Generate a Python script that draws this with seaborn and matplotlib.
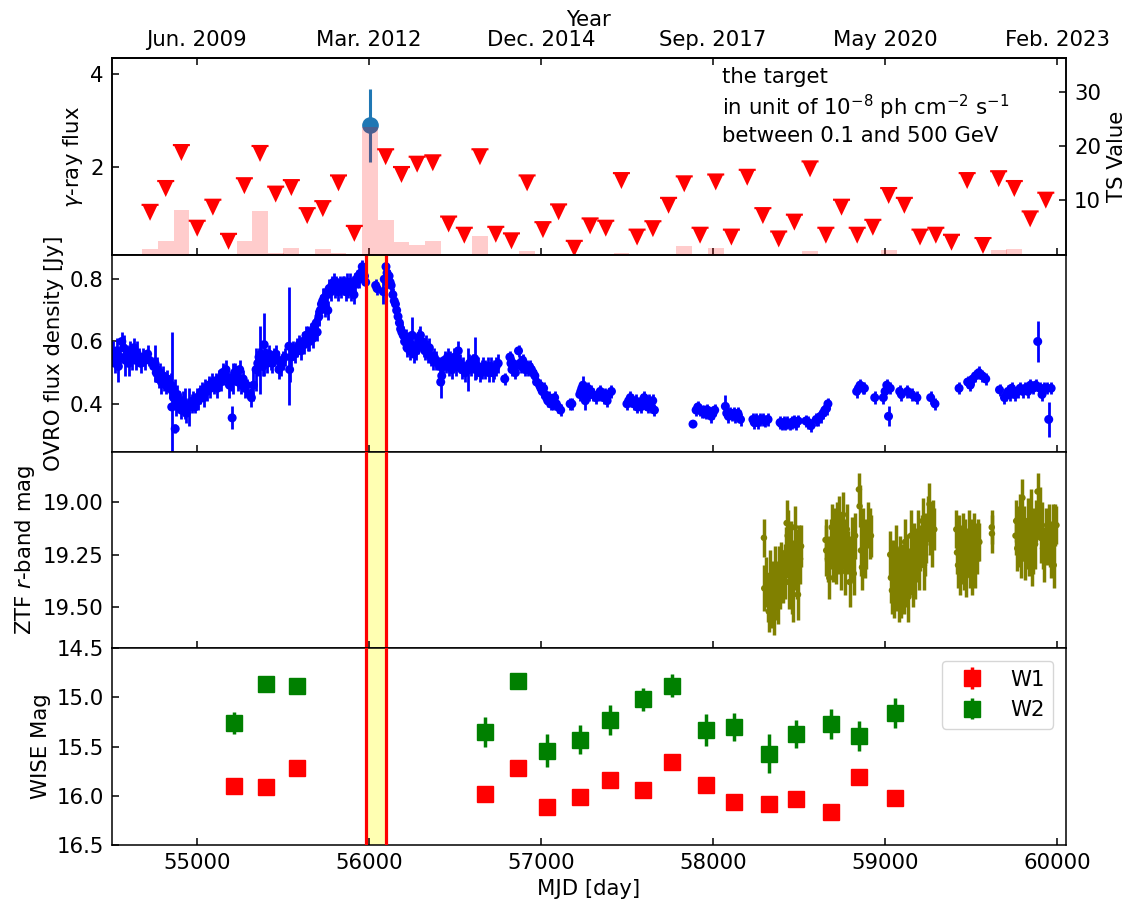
import numpy as np
import pandas as pd
import matplotlib
matplotlib.use("Agg")
import matplotlib.pyplot as plt
from matplotlib.path import Path
import seaborn as sns

# ---------------- data ----------------
# Fermi-LAT quarterly bins
gamma_bin_mjd = [54729, 54820, 54911, 55003, 55094, 55185, 55277, 55368, 55459, 55550,
                 55642, 55733, 55824, 55916, 56007, 56098, 56190, 56281, 56372, 56464,
                 56555, 56646, 56738, 56829, 56920, 57012, 57103, 57194, 57286, 57377,
                 57468, 57559, 57651, 57742, 57833, 57925, 58016, 58107, 58199, 58290,
                 58382, 58473, 58564, 58656, 58747, 58838, 58929, 59021, 59112, 59203,
                 59295, 59386, 59477, 59569, 59660, 59751, 59843, 59934]
gamma_ul_flux = [1.03, 1.54, 2.31, 0.69, 1.14, 0.41, 1.60, 2.29, 1.42, 1.56,
                 0.96, 1.11, 1.66, 0.58, np.nan, 2.22, 1.84, 2.06, 2.09, 0.78,
                 0.54, 2.22, 0.56, 0.42, 1.66, 0.66, 1.04, 0.26, 0.74, 0.69,
                 1.71, 0.50, 0.68, 1.18, 1.64, 0.54, 1.68, 0.50, 1.78, 0.96,
                 0.46, 0.82, 1.96, 0.54, 1.14, 0.54, 0.71, 1.39, 1.18, 0.50,
                 0.54, 0.39, 1.71, 0.32, 1.75, 1.54, 0.89, 1.29]
gamma_ts = [1.0, 2.5, 8.2, 0, 0, 0, 2.5, 8.0, 0.4, 1.2,
            0, 1.0, 0.3, 0, 23.6, 6.4, 2.3, 1.8, 2.5, 0,
            0, 3.4, 0, 0, 0.7, 0, 0, 0, 0, 0,
            0.4, 0, 0, 0, 1.6, 0, 1.2, 0, 0, 0,
            0, 0, 0.7, 0, 0, 0, 0, 0.85, 0, 0,
            0, 0, 0, 0, 0.85, 1.0, 0, 0]
gamma_det_mjd = [56007]
gamma_det_flux = [2.89]
gamma_det_err_lo = [0.78]
gamma_det_err_hi = [0.77]

year_tick_mjd = [55000, 56000, 57000, 58000, 59000, 60000]
year_tick_labels = ["Jun. 2009", "Mar. 2012", "Dec. 2014", "Sep. 2017", "May 2020", "Feb. 2023"]

# OVRO 15 GHz
ovro_mjd = [54505, 54515, 54525, 54535, 54545, 54555, 54565, 54575, 54585, 54595,
            54605, 54615, 54625, 54635, 54645, 54655, 54665, 54675, 54690, 54700,
            54715, 54725, 54750, 54758, 54765, 54772, 54780, 54788, 54795, 54805,
            54812, 54820, 54830, 54842, 54850, 54855, 54860, 54865, 54872, 54875,
            54880, 54888, 54895, 54902, 54910, 54918, 54925, 54932, 54940, 54950,
            54958, 54970, 54980, 54990, 55000, 55010, 55020, 55030, 55040, 55050,
            55060, 55070, 55080, 55090, 55100, 55110, 55120, 55130, 55140, 55150,
            55160, 55170, 55180, 55190, 55200, 55206, 55212, 55220, 55230, 55240,
            55250, 55260, 55270, 55280, 55290, 55310, 55318, 55330, 55345, 55355,
            55362, 55368, 55375, 55385, 55392, 55400, 55410, 55420, 55430, 55440,
            55450, 55460, 55470, 55478, 55490, 55500, 55512, 55536, 55540, 55550,
            55560, 55570, 55585, 55595, 55605, 55615, 55625, 55635, 55645, 55655,
            55665, 55675, 55685, 55695, 55700, 55710, 55718, 55725, 55732, 55740,
            55748, 55755, 55762, 55770, 55778, 55786, 55795, 55805, 55812, 55820,
            55830, 55840, 55850, 55858, 55866, 55874, 55882, 55890, 55898, 55906,
            55914, 55922, 55930, 55938, 55946, 55954, 55962, 55968, 55975, 55982,
            56040, 56048, 56084, 56090, 56100, 56106, 56112, 56118, 56124, 56130,
            56140, 56148, 56155, 56162, 56170, 56178, 56185, 56192, 56200, 56208,
            56215, 56222, 56230, 56238, 56245, 56252, 56260, 56268, 56276, 56284,
            56292, 56300, 56310, 56318, 56326, 56334, 56342, 56352, 56362, 56372,
            56380, 56390, 56412, 56418, 56424, 56432, 56440, 56448, 56458, 56466,
            56474, 56482, 56490, 56498, 56506, 56514, 56520, 56530, 56540, 56550,
            56560, 56578, 56585, 56595, 56605, 56615, 56625, 56635, 56645, 56655,
            56665, 56675, 56690, 56700, 56710, 56720, 56730, 56740, 56752, 56790,
            56820, 56826, 56832, 56838, 56845, 56852, 56870, 56878, 56886, 56894,
            56902, 56910, 56918, 56926, 56934, 56945, 56955, 56965, 56975, 56992,
            57000, 57008, 57016, 57024, 57032, 57040, 57048, 57056, 57064, 57072,
            57080, 57090, 57100, 57115, 57170, 57180, 57226, 57232, 57238, 57245,
            57252, 57258, 57264, 57272, 57280, 57290, 57300, 57320, 57335, 57345,
            57355, 57365, 57375, 57385, 57395, 57410, 57500, 57510, 57520, 57530,
            57540, 57550, 57560, 57570, 57580, 57590, 57600, 57610, 57620, 57630,
            57640, 57650, 57660, 57884, 57902, 57912, 57922, 57935, 57945, 57958,
            57968, 57980, 57990, 58000, 58010, 58072, 58080, 58090, 58100, 58110,
            58120, 58130, 58145, 58160, 58232, 58240, 58250, 58260, 58275, 58290,
            58305, 58320, 58390, 58400, 58410, 58420, 58430, 58445, 58460, 58470,
            58480, 58495, 58540, 58555, 58570, 58600, 58612, 58625, 58640, 58650,
            58660, 58668, 58835, 58845, 58855, 58870, 58880, 58940, 58990, 59000,
            59010, 59020, 59030, 59085, 59095, 59130, 59155, 59185, 59265, 59290,
            59430, 59480, 59495, 59510, 59525, 59545, 59565, 59585, 59665, 59694,
            59705, 59715, 59725, 59735, 59745, 59755, 59770, 59785, 59800, 59815,
            59830, 59845, 59860, 59875, 59887, 59900, 59912, 59925, 59940, 59951,
            59965]
ovro_flux = [0.55, 0.56, 0.53, 0.57, 0.52, 0.55, 0.60, 0.58, 0.54, 0.56,
             0.53, 0.57, 0.55, 0.58, 0.54, 0.56, 0.55, 0.53, 0.55, 0.54,
             0.56, 0.54, 0.52, 0.53, 0.50, 0.51, 0.48, 0.50, 0.47, 0.49,
             0.47, 0.46, 0.48, 0.45, 0.46, 0.39, 0.44, 0.42, 0.43, 0.32,
             0.40, 0.43, 0.41, 0.40, 0.38, 0.41, 0.39, 0.40, 0.37, 0.39,
             0.39, 0.40, 0.41, 0.39, 0.42, 0.41, 0.43, 0.44, 0.42, 0.45,
             0.44, 0.46, 0.45, 0.47, 0.46, 0.47, 0.45, 0.48, 0.47, 0.50,
             0.49, 0.51, 0.48, 0.46, 0.47, 0.355, 0.48, 0.50, 0.49, 0.47,
             0.51, 0.46, 0.48, 0.45, 0.46, 0.43, 0.42, 0.46, 0.51, 0.53,
             0.55, 0.54, 0.56, 0.52, 0.59, 0.55, 0.53, 0.56, 0.54, 0.53,
             0.55, 0.56, 0.54, 0.51, 0.52, 0.54, 0.55, 0.585, 0.51, 0.55,
             0.57, 0.56, 0.58, 0.59, 0.57, 0.60, 0.59, 0.62, 0.61, 0.60,
             0.63, 0.61, 0.65, 0.66, 0.63, 0.68, 0.70, 0.72, 0.73, 0.74,
             0.71, 0.75, 0.70, 0.77, 0.76, 0.78, 0.79, 0.77, 0.79, 0.76,
             0.78, 0.77, 0.79, 0.78, 0.76, 0.79, 0.77, 0.79, 0.76, 0.78,
             0.75, 0.79, 0.80, 0.81, 0.80, 0.82, 0.84, 0.83, 0.81, 0.79,
             0.78, 0.77, 0.76, 0.80, 0.84, 0.82, 0.80, 0.81, 0.79, 0.78,
             0.75, 0.73, 0.72, 0.70, 0.68, 0.66, 0.64, 0.63, 0.62, 0.60,
             0.61, 0.58, 0.60, 0.57, 0.59, 0.62, 0.56, 0.58, 0.57, 0.59,
             0.61, 0.62, 0.60, 0.58, 0.57, 0.59, 0.56, 0.58, 0.55, 0.54,
             0.55, 0.54, 0.52, 0.47, 0.49, 0.52, 0.54, 0.53, 0.55, 0.52,
             0.54, 0.51, 0.53, 0.55, 0.52, 0.54, 0.57, 0.53, 0.51, 0.52,
             0.50, 0.51, 0.53, 0.52, 0.53, 0.545, 0.51, 0.52, 0.50, 0.51,
             0.52, 0.51, 0.52, 0.50, 0.52, 0.50, 0.51, 0.52, 0.53, 0.48,
             0.55, 0.53, 0.51, 0.53, 0.52, 0.50, 0.57, 0.53, 0.52, 0.54,
             0.52, 0.51, 0.52, 0.51, 0.52, 0.51, 0.50, 0.49, 0.47, 0.46,
             0.45, 0.44, 0.45, 0.43, 0.42, 0.41, 0.42, 0.40, 0.41, 0.40,
             0.42, 0.40, 0.39, 0.38, 0.40, 0.40, 0.43, 0.44, 0.45, 0.46,
             0.43, 0.41, 0.44, 0.45, 0.43, 0.44, 0.43, 0.42, 0.43, 0.44,
             0.43, 0.42, 0.43, 0.41, 0.43, 0.44, 0.40, 0.41, 0.42, 0.41,
             0.40, 0.41, 0.39, 0.40, 0.39, 0.41, 0.42, 0.40, 0.39, 0.41,
             0.39, 0.41, 0.38, 0.335, 0.38, 0.39, 0.38, 0.375, 0.375, 0.37,
             0.38, 0.37, 0.36, 0.37, 0.38, 0.392, 0.37, 0.36, 0.37, 0.365,
             0.37, 0.36, 0.37, 0.35, 0.35, 0.34, 0.35, 0.34, 0.35, 0.35,
             0.345, 0.35, 0.34, 0.335, 0.34, 0.335, 0.34, 0.335, 0.34, 0.345,
             0.335, 0.345, 0.345, 0.34, 0.33, 0.35, 0.35, 0.36, 0.37, 0.38,
             0.385, 0.40, 0.44, 0.45, 0.46, 0.45, 0.45, 0.42, 0.42, 0.44,
             0.46, 0.36, 0.45, 0.44, 0.43, 0.44, 0.43, 0.42, 0.42, 0.40,
             0.45, 0.47, 0.46, 0.48, 0.49, 0.50, 0.49, 0.48, 0.445, 0.42,
             0.43, 0.44, 0.43, 0.45, 0.44, 0.43, 0.44, 0.45, 0.44, 0.45,
             0.44, 0.46, 0.45, 0.46, 0.60, 0.45, 0.43, 0.45, 0.45, 0.35,
             0.45]
ovro_err = [0.03, 0.04, 0.03, 0.04, 0.05, 0.03, 0.03, 0.04, 0.05, 0.03,
            0.04, 0.03, 0.04, 0.03, 0.03, 0.04, 0.03, 0.03, 0.03, 0.03,
            0.03, 0.02, 0.03, 0.06, 0.03, 0.04, 0.03, 0.03, 0.04, 0.03,
            0.03, 0.03, 0.03, 0.03, 0.04, 0.24, 0.03, 0.03, 0.05, 0.015,
            0.04, 0.03, 0.03, 0.03, 0.03, 0.03, 0.03, 0.05, 0.03, 0.03,
            0.06, 0.03, 0.03, 0.02, 0.03, 0.03, 0.03, 0.03, 0.03, 0.03,
            0.03, 0.03, 0.03, 0.03, 0.03, 0.03, 0.03, 0.03, 0.03, 0.03,
            0.03, 0.03, 0.03, 0.04, 0.03, 0.037, 0.05, 0.03, 0.03, 0.03,
            0.03, 0.03, 0.03, 0.03, 0.02, 0.02, 0.03, 0.05, 0.07, 0.04,
            0.03, 0.11, 0.04, 0.03, 0.10, 0.03, 0.03, 0.03, 0.03, 0.03,
            0.03, 0.03, 0.03, 0.03, 0.03, 0.03, 0.03, 0.19, 0.04, 0.03,
            0.03, 0.03, 0.03, 0.03, 0.03, 0.03, 0.03, 0.03, 0.04, 0.03,
            0.03, 0.03, 0.03, 0.04, 0.03, 0.03, 0.03, 0.03, 0.04, 0.03,
            0.03, 0.03, 0.03, 0.03, 0.03, 0.03, 0.03, 0.03, 0.02, 0.03,
            0.03, 0.03, 0.02, 0.03, 0.03, 0.03, 0.03, 0.03, 0.03, 0.03,
            0.03, 0.03, 0.03, 0.02, 0.03, 0.03, 0.02, 0.02, 0.02, 0.02,
            0.02, 0.02, 0.04, 0.02, 0.02, 0.02, 0.02, 0.02, 0.02, 0.02,
            0.02, 0.02, 0.02, 0.02, 0.03, 0.02, 0.03, 0.03, 0.03, 0.03,
            0.03, 0.03, 0.03, 0.03, 0.03, 0.06, 0.03, 0.03, 0.03, 0.03,
            0.03, 0.03, 0.03, 0.03, 0.03, 0.03, 0.03, 0.03, 0.03, 0.03,
            0.03, 0.03, 0.03, 0.05, 0.03, 0.03, 0.03, 0.03, 0.03, 0.03,
            0.03, 0.03, 0.03, 0.03, 0.03, 0.03, 0.03, 0.03, 0.03, 0.03,
            0.03, 0.07, 0.03, 0.03, 0.03, 0.07, 0.03, 0.03, 0.03, 0.03,
            0.03, 0.03, 0.03, 0.03, 0.03, 0.03, 0.03, 0.03, 0.03, 0.02,
            0.02, 0.03, 0.02, 0.02, 0.02, 0.02, 0.02, 0.02, 0.02, 0.02,
            0.02, 0.02, 0.02, 0.02, 0.02, 0.02, 0.02, 0.02, 0.02, 0.02,
            0.02, 0.02, 0.02, 0.02, 0.02, 0.02, 0.02, 0.02, 0.02, 0.02,
            0.02, 0.02, 0.02, 0.02, 0.02, 0.02, 0.02, 0.02, 0.02, 0.03,
            0.02, 0.03, 0.02, 0.02, 0.02, 0.02, 0.02, 0.02, 0.02, 0.02,
            0.02, 0.02, 0.02, 0.02, 0.02, 0.02, 0.02, 0.02, 0.02, 0.02,
            0.02, 0.02, 0.02, 0.02, 0.02, 0.02, 0.02, 0.02, 0.02, 0.02,
            0.02, 0.02, 0.02, 0.01, 0.02, 0.02, 0.02, 0.02, 0.02, 0.02,
            0.02, 0.02, 0.02, 0.02, 0.02, 0.035, 0.02, 0.02, 0.02, 0.02,
            0.02, 0.02, 0.02, 0.02, 0.02, 0.02, 0.02, 0.02, 0.02, 0.02,
            0.02, 0.02, 0.02, 0.02, 0.02, 0.02, 0.02, 0.02, 0.02, 0.02,
            0.02, 0.02, 0.02, 0.02, 0.02, 0.02, 0.02, 0.02, 0.02, 0.02,
            0.02, 0.02, 0.02, 0.02, 0.02, 0.02, 0.02, 0.02, 0.02, 0.02,
            0.02, 0.032, 0.02, 0.02, 0.02, 0.02, 0.02, 0.02, 0.02, 0.02,
            0.02, 0.02, 0.02, 0.02, 0.02, 0.02, 0.02, 0.02, 0.02, 0.02,
            0.02, 0.02, 0.02, 0.02, 0.02, 0.02, 0.02, 0.02, 0.02, 0.02,
            0.02, 0.02, 0.02, 0.02, 0.065, 0.02, 0.02, 0.02, 0.02, 0.057,
            0.02]

# ZTF r-band
ztf_mjd = [58296, 58298, 58310, 58318, 58324, 58330, 58338, 58346, 58352, 58358,
           58366, 58372, 58378, 58386, 58392, 58398, 58406, 58418, 58422, 58428,
           58434, 58440, 58446, 58452, 58458, 58466, 58470, 58476, 58480, 58486,
           58494, 58500, 58506, 58512,
           58654, 58658, 58668, 58676, 58684, 58690, 58698, 58706, 58712, 58720,
           58728, 58734, 58742, 58748, 58756, 58762, 58770, 58778, 58786, 58794,
           58802, 58810, 58818, 58826, 58848, 58852, 58860, 58866, 58874, 58882,
           58890, 58900, 58910, 58918,
           59030, 59034, 59040, 59046, 59052, 59056, 59062, 59068, 59074, 59080,
           59086, 59092, 59098, 59104, 59110, 59116, 59122, 59130, 59136, 59142,
           59150, 59156, 59162, 59170, 59176, 59184, 59190, 59198, 59204, 59212,
           59218, 59226, 59232, 59240, 59248, 59258, 59264, 59270, 59276, 59286,
           59414, 59418, 59424, 59430, 59436, 59442, 59448, 59454, 59460, 59466,
           59472, 59478, 59486, 59492, 59498, 59506, 59512, 59518, 59524, 59532,
           59540, 59548, 59620, 59621,
           59758, 59762, 59768, 59774, 59780, 59786, 59792, 59798, 59804, 59810,
           59816, 59822, 59828, 59834, 59840, 59846, 59852, 59858, 59866, 59872,
           59878, 59886, 59892, 59898, 59904, 59912, 59918, 59926, 59934, 59942,
           59950, 59958, 59966, 59974, 59980, 59990, 59996]
ztf_mag = [19.17, 19.41, 19.38, 19.46, 19.52, 19.35, 19.49, 19.40, 19.52, 19.32,
           19.44, 19.38, 19.47, 19.33, 19.41, 19.30, 19.36, 19.33, 19.24, 19.10,
           19.16, 19.38, 19.28, 19.20, 19.41, 19.44, 19.30, 19.12, 19.25, 19.33,
           19.44, 19.22, 19.27, 19.21,
           19.18, 19.23, 19.27, 19.36, 19.20, 19.12, 19.25, 19.15, 19.28, 19.10,
           19.22, 19.08, 19.30, 19.17, 19.06, 19.20, 19.33, 19.13, 19.24, 19.38,
           19.27, 19.19, 19.34, 19.16, 18.94, 19.02, 19.23, 19.31, 19.15, 19.26,
           19.20, 19.11, 19.15, 19.16,
           19.25, 19.36, 19.42, 19.30, 19.45, 19.38, 19.22, 19.40, 19.33, 19.47,
           19.28, 19.44, 19.35, 19.30, 19.41, 19.19, 19.38, 19.25, 19.45, 19.33,
           19.16, 19.31, 19.39, 19.22, 19.35, 19.26, 19.14, 19.30, 19.22, 19.18,
           19.09, 19.30, 19.25, 19.17, 19.08, 19.01, 19.13, 19.20, 19.10, 19.13,
           19.13, 19.24, 19.30, 19.18, 19.34, 19.22, 19.27, 19.15, 19.31, 19.20,
           19.35, 19.24, 19.14, 19.29, 19.19, 19.34, 19.26, 19.16, 19.31, 19.22,
           19.18, 19.19, 19.12, 19.15,
           19.16, 19.09, 19.22, 19.12, 19.19, 19.06, 19.25, 18.98, 19.16, 19.13,
           19.27, 19.20, 19.09, 19.23, 19.14, 19.05, 19.28, 19.24, 19.14, 19.20,
           19.09, 18.95, 19.06, 19.03, 19.17, 19.11, 19.22, 19.26, 19.14, 19.18,
           19.11, 19.20, 19.24, 19.11, 19.30, 19.11, 19.11]
ztf_err = [0.09, 0.11, 0.12, 0.11, 0.10, 0.12, 0.11, 0.12, 0.11, 0.11,
           0.12, 0.10, 0.11, 0.12, 0.10, 0.11, 0.12, 0.13, 0.12, 0.11,
           0.12, 0.13, 0.12, 0.11, 0.12, 0.13, 0.12, 0.10, 0.12, 0.13,
           0.12, 0.11, 0.12, 0.10,
           0.10, 0.12, 0.11, 0.10, 0.12, 0.11, 0.13, 0.12, 0.11, 0.10,
           0.12, 0.11, 0.12, 0.10, 0.11, 0.12, 0.11, 0.12, 0.10, 0.12,
           0.11, 0.12, 0.10, 0.11, 0.08, 0.10, 0.12, 0.11, 0.12, 0.10,
           0.12, 0.11, 0.12, 0.10,
           0.11, 0.12, 0.11, 0.12, 0.10, 0.12, 0.11, 0.12, 0.11, 0.10,
           0.12, 0.11, 0.12, 0.10, 0.12, 0.11, 0.12, 0.10, 0.12, 0.11,
           0.12, 0.10, 0.11, 0.12, 0.11, 0.12, 0.10, 0.12, 0.11, 0.12,
           0.11, 0.12, 0.10, 0.12, 0.11, 0.10, 0.12, 0.11, 0.11, 0.10,
           0.09, 0.10, 0.11, 0.12, 0.10, 0.11, 0.12, 0.10, 0.11, 0.12,
           0.10, 0.11, 0.10, 0.12, 0.11, 0.10, 0.12, 0.11, 0.10, 0.12,
           0.10, 0.09, 0.08, 0.09,
           0.09, 0.10, 0.11, 0.10, 0.12, 0.10, 0.11, 0.09, 0.12, 0.11,
           0.10, 0.12, 0.11, 0.12, 0.10, 0.11, 0.12, 0.10, 0.11, 0.12,
           0.10, 0.09, 0.11, 0.10, 0.12, 0.11, 0.10, 0.12, 0.11, 0.12,
           0.10, 0.11, 0.12, 0.10, 0.11, 0.10, 0.09]

# WISE
wise_mjd = [55217, 55404, 55580, 56678, 56868, 57038, 57226, 57400, 57594, 57762,
            57961, 58122, 58323, 58484, 58687, 58848, 59055]
w1_mag = [15.90, 15.91, 15.72, 15.98, 15.72, 16.11, 16.01, 15.84, 15.94, 15.66,
          15.89, 16.06, 16.08, 16.03, 16.16, 15.81, 16.02]
w1_err = [0.03, 0.03, 0.03, 0.03, 0.03, 0.04, 0.03, 0.03, 0.03, 0.03,
          0.03, 0.03, 0.03, 0.03, 0.03, 0.03, 0.03]
w2_mag = [15.26, 14.86, 14.88, 15.35, 14.83, 15.54, 15.43, 15.23, 15.02, 14.88,
          15.33, 15.30, 15.57, 15.37, 15.27, 15.39, 15.16]
w2_err = [0.11, 0.05, 0.05, 0.15, 0.05, 0.17, 0.15, 0.15, 0.12, 0.12,
          0.16, 0.14, 0.20, 0.14, 0.15, 0.15, 0.15]

flare_start, flare_end = 55981, 56099

# ---------------- style ----------------
sns.set_style("ticks", rc={"axes.edgecolor": "black", "text.color": "black",
                           "axes.labelcolor": "black", "xtick.color": "black",
                           "ytick.color": "black"})
FS = 15.3
plt.rcParams["font.family"] = ["DejaVu Sans"]
plt.rcParams["mathtext.fontset"] = "dejavusans"
plt.rcParams["font.size"] = FS
plt.rcParams["axes.linewidth"] = 1.1

fig, axes = plt.subplots(4, 1, figsize=(11.35, 9.08), dpi=100, sharex=True)
fig.subplots_adjust(left=0.0987, right=0.939, bottom=0.0694, top=0.936, hspace=0)

tp = dict(direction="in", length=5, width=1.1, pad=6, labelsize=FS)

# ---- panel 1: gamma ----
ax0 = axes[0]
ul_df = pd.DataFrame({"mjd": gamma_bin_mjd, "flux": gamma_ul_flux}).dropna()
ul_marker = Path([(-1, 1), (1, 1), (1, 0.75), (0.83, 0.75), (0, -1),
                  (-0.83, 0.75), (-1, 0.75), (-1, 1)], closed=True)
sns.scatterplot(data=ul_df, x="mjd", y="flux", ax=ax0, marker=ul_marker, s=150,
                color="red", edgecolor="none", linewidth=0, zorder=3, legend=False)
ax0.errorbar(gamma_det_mjd, gamma_det_flux, yerr=[gamma_det_err_lo, gamma_det_err_hi],
             fmt="o", color="tab:blue", markersize=11, elinewidth=2.2, capsize=0, zorder=4)
ax0.set_ylim(0.12, 4.33)
ax0.set_yticks([2, 4])
ax0.set_ylabel(r"$\gamma$-ray flux")
ax0.tick_params(axis="both", **tp)
ax0.text(0.64, 0.955, "the target\nin unit of $10^{-8}$ ph cm$^{-2}$ s$^{-1}$\nbetween 0.1 and 500 GeV",
         transform=ax0.transAxes, ha="left", va="top", fontsize=FS, linespacing=1.25)

ax0t = ax0.twinx()
ax0t.bar(gamma_bin_mjd, gamma_ts, width=91.3, color="red", alpha=0.2, linewidth=0)
ax0t.set_ylim(0, 36.2)
ax0t.set_yticks([10, 20, 30])
ax0t.set_ylabel("TS Value")
ax0t.tick_params(axis="y", **tp)

sec = ax0.secondary_xaxis("top")
sec.set_xticks(year_tick_mjd, labels=year_tick_labels)
sec.set_xlabel("Year", labelpad=3)
sec.tick_params(axis="x", **tp)

# ---- panel 2: OVRO ----
ax1 = axes[1]
ax1.errorbar(ovro_mjd, ovro_flux, yerr=ovro_err, fmt="none", ecolor="blue",
             elinewidth=2, capsize=0, zorder=2)
sns.scatterplot(x=ovro_mjd, y=ovro_flux, ax=ax1, color="blue", s=42,
                edgecolor="none", linewidth=0, zorder=2, legend=False)
ax1.set_ylim(0.247, 0.878)
ax1.set_yticks([0.4, 0.6, 0.8])
ax1.set_ylabel("OVRO flux density [Jy]")

# ---- panel 3: ZTF ----
ax2 = axes[2]
ax2.errorbar(ztf_mjd, ztf_mag, yerr=ztf_err, fmt="none", ecolor="olive",
             elinewidth=2.5, capsize=0, zorder=2)
sns.scatterplot(x=ztf_mjd, y=ztf_mag, ax=ax2, color="olive", s=22,
                edgecolor="none", linewidth=0, zorder=2, legend=False)
ax2.set_ylim(19.695, 18.76)
ax2.set_yticks([19.0, 19.25, 19.5])
ax2.yaxis.set_major_formatter(matplotlib.ticker.FormatStrFormatter("%.2f"))
ax2.set_ylabel("ZTF $r$-band mag")

# ---- panel 4: WISE ----
ax3 = axes[3]
ax3.errorbar(wise_mjd, w1_mag, yerr=w1_err, fmt="s", color="red", markersize=11,
             elinewidth=2.5, capsize=0, label="W1", zorder=3)
ax3.errorbar(wise_mjd, w2_mag, yerr=w2_err, fmt="s", color="green", markersize=11,
             elinewidth=2.5, capsize=0, label="W2", zorder=3)
ax3.set_ylim(16.5, 14.5)
ax3.set_yticks([14.5, 15.0, 15.5, 16.0, 16.5])
ax3.set_ylabel("WISE Mag")
ax3.legend(loc="upper right", fontsize=FS, borderaxespad=0.6)

for ax in axes[1:]:
    ax.axvspan(flare_start, flare_end, color="yellow", alpha=0.3, zorder=0, linewidth=0)
    ax.axvline(flare_start, color="red", lw=2.3, zorder=5)
    ax.axvline(flare_end, color="red", lw=2.3, zorder=5)
    ax.tick_params(axis="both", **tp)

ax3.set_xlim(54508, 60050)
ax3.set_xticks([55000, 56000, 57000, 58000, 59000, 60000])
ax3.set_xlabel("MJD [day]")

fig.savefig("out.png", dpi=100)
